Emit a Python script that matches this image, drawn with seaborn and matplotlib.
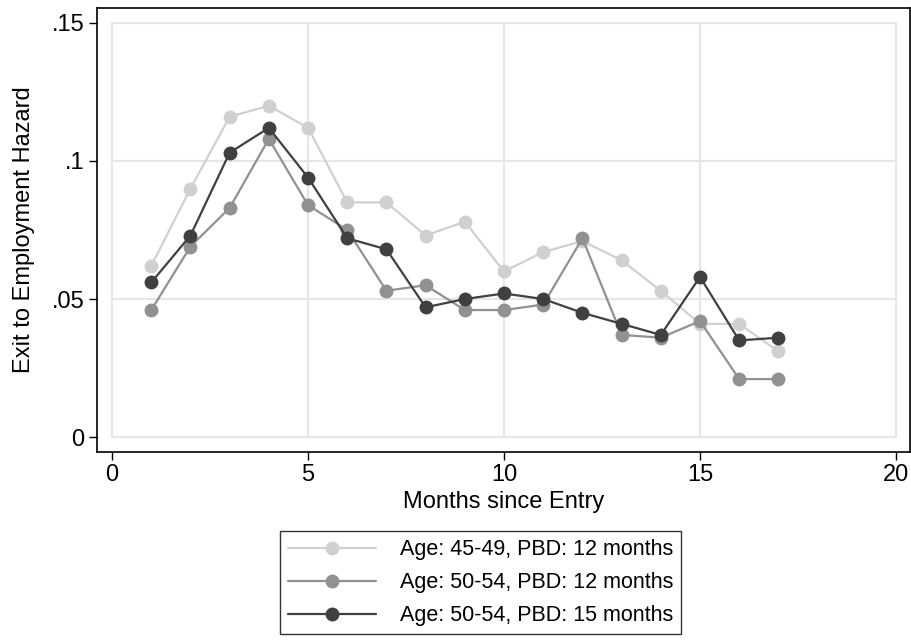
import numpy as np
import pandas as pd
import matplotlib
matplotlib.use("Agg")
import matplotlib.pyplot as plt
from matplotlib.patches import Rectangle
import seaborn as sns

months = list(range(1, 18))
age4549_pbd12 = [.062, .090, .116, .120, .112, .085, .085, .073, .078, .060,
                 .067, .071, .064, .053, .041, .041, .031]
age5054_pbd12 = [.046, .069, .083, .108, .084, .075, .053, .055, .046, .046,
                 .048, .072, .037, .036, .042, .021, .021]
age5054_pbd15 = [.056, .073, .103, .112, .094, .072, .068, .047, .050, .052,
                 .050, .045, .041, .037, .058, .035, .036]
labels = ["Age: 45-49, PBD: 12 months",
          "Age: 50-54, PBD: 12 months",
          "Age: 50-54, PBD: 15 months"]
colors = ["#d0d0d0", "#919191", "#404040"]

df = pd.DataFrame({
    "month": months * 3,
    "hazard": age4549_pbd12 + age5054_pbd12 + age5054_pbd15,
    "group": [labels[0]] * 17 + [labels[1]] * 17 + [labels[2]] * 17,
})

sns.set_style("white")
plt.rcParams['font.family'] = ['Liberation Sans', 'DejaVu Sans']
plt.rcParams['text.color'] = 'black'
plt.rcParams['axes.labelcolor'] = 'black'
plt.rcParams['xtick.color'] = 'black'
plt.rcParams['ytick.color'] = 'black'

fig = plt.figure(figsize=(9.12, 6.42), dpi=100)
ax = fig.add_axes([0.1064, 0.2960, 0.8914, 0.6915])

# stata-like plot region and grid
ax.add_patch(Rectangle((0, 0), 20, 0.15, fill=False, edgecolor="#e6e6e6", lw=1.5, zorder=0))
for xv in [5, 10, 15]:
    ax.plot([xv, xv], [0, 0.15], color="#e6e6e6", lw=1.5, zorder=0)
for yv in [0.05, 0.1]:
    ax.plot([0, 20], [yv, yv], color="#e6e6e6", lw=1.5, zorder=0)

sns.lineplot(data=df, x="month", y="hazard", hue="group", hue_order=labels,
             palette=colors, marker="o", markersize=10, markeredgewidth=0,
             linewidth=1.6, ax=ax, zorder=3)

ax.set_xlim(-0.383, 20.357)
ax.set_ylim(-0.0054, 0.1554)
ax.set_xticks([0, 5, 10, 15, 20])
ax.set_yticks([0, 0.05, 0.1, 0.15])
ax.set_yticklabels(["0", ".05", ".1", ".15"])
ax.tick_params(axis="both", direction="out", length=6, width=1, color="black",
               labelsize=17, left=True, bottom=True, pad=3)
ax.set_xlabel("Months since Entry", fontsize=17, labelpad=3)
ax.set_ylabel("Exit to Employment Hazard", fontsize=17, labelpad=12)
for s in ax.spines.values():
    s.set_color("black")
    s.set_linewidth(1.2)

leg = ax.legend(loc="upper center", bbox_to_anchor=(0.527, 0.173),
                bbox_transform=fig.transFigure, fontsize=15.5, frameon=True,
                fancybox=False, edgecolor="black", handlelength=4.1,
                borderpad=0.38, labelspacing=0.56, handletextpad=1.1,
                borderaxespad=0)
leg.get_frame().set_linewidth(1.0)

fig.savefig("out.png", dpi=100)
